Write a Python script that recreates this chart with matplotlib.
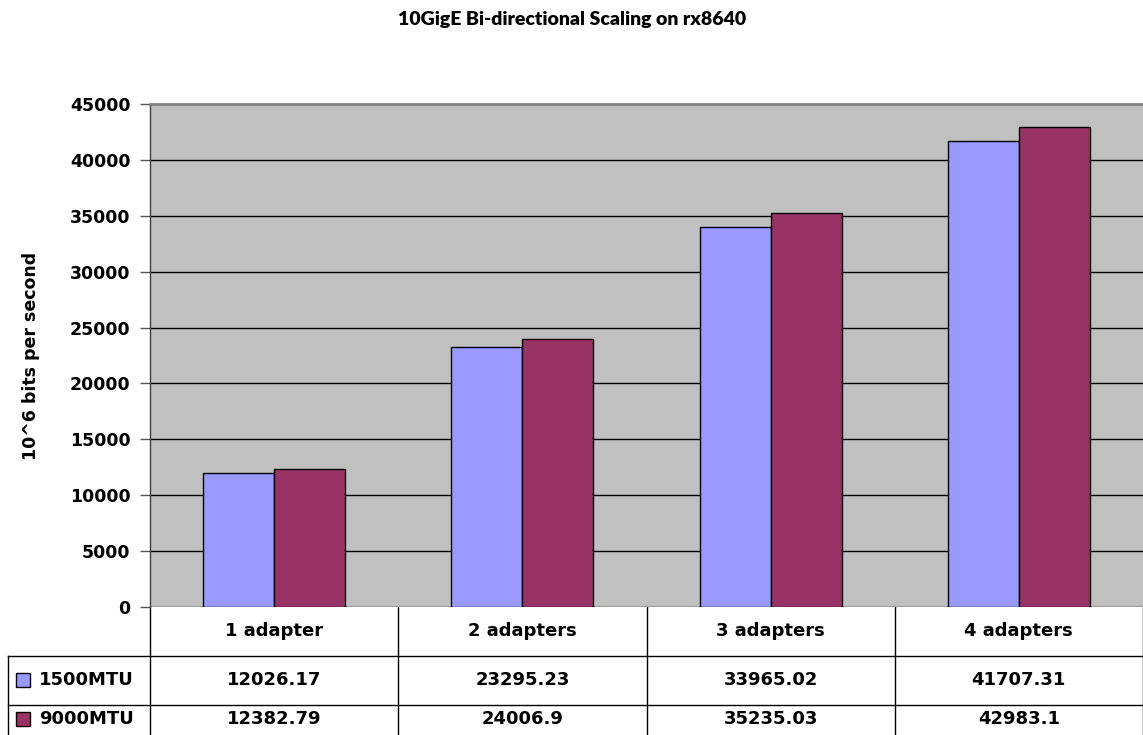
import numpy as np
import matplotlib
matplotlib.use("Agg")
import matplotlib.pyplot as plt
from matplotlib.patches import Rectangle

categories = ["1 adapter", "2 adapters", "3 adapters", "4 adapters"]
series_names = ["1500MTU", "9000MTU"]
mtu1500 = [12026.17, 23295.23, 33965.02, 41707.31]
mtu9000 = [12382.79, 24006.9, 35235.03, 42983.1]
value_labels = [["12026.17", "23295.23", "33965.02", "41707.31"],
                ["12382.79", "24006.9", "35235.03", "42983.1"]]
yticks = [0, 5000, 10000, 15000, 20000, 25000, 30000, 35000, 40000, 45000]

colors = ["#9999FF", "#993366"]
FONT = "DejaVu Sans"

W, H = 1143, 735
fig = plt.figure(figsize=(W / 100, H / 100), dpi=100)

# main plot area (pixel layout converted to figure fractions)
px_l, px_r, px_t, px_b = 150, 1143, 104, 607
ax = fig.add_axes([px_l / W, 1 - px_b / H, (px_r - px_l) / W, (px_b - px_t) / H])
ax.set_facecolor("#C0C0C0")

x = np.arange(len(categories))
bw = 0.286
ax.bar(x - bw / 2, mtu1500, bw, color=colors[0], edgecolor="black", linewidth=1, zorder=3)
ax.bar(x + bw / 2, mtu9000, bw, color=colors[1], edgecolor="black", linewidth=1, zorder=3)

ax.set_xlim(-0.5, len(categories) - 0.5)
ax.set_ylim(0, 45000)
ax.set_yticks(yticks)
ax.set_yticklabels([str(t) for t in yticks], fontfamily=FONT, fontweight="bold", fontsize=12.5)
ax.yaxis.grid(True, color="black", linewidth=1, zorder=0)
ax.set_xticks([])
ax.tick_params(axis="y", length=7, width=1, color="#555555", pad=7)
for side in ["right", "bottom"]:
    ax.spines[side].set_visible(False)
ax.spines["top"].set_color("#808080")
ax.spines["top"].set_linewidth(2)
ax.spines["left"].set_color("#404040")
ax.spines["left"].set_linewidth(1)

ax.set_ylabel("10^6 bits per second", fontfamily=FONT, fontweight="bold", fontsize=12.5)
ax.yaxis.set_label_coords(-(px_l - 40) / (px_r - px_l), 0.5)

fig.text(572 / W, 1 - 20 / H, "10GigE Bi-directional Scaling on rx8640",
         ha="center", va="center", fontfamily="Lato", fontweight="heavy", fontsize=14)

# data table below the plot, drawn in pixel units
tax = fig.add_axes([0, 0, 1, 1 - px_b / H], zorder=-1)
tax.set_xlim(0, W)
tax.set_ylim(H, px_b)
tax.axis("off")

col_w = (px_r - px_l) / len(categories)
row_edges = [607, 656, 705]
row_centers = [631, 680, 719]
lw = 1
for i in range(len(categories) + 1):
    xx = px_l + i * col_w
    tax.plot([xx, xx], [row_edges[0], H], color="black", lw=lw)
tax.plot([8, 8], [row_edges[1], H], color="black", lw=lw)
tax.plot([8, px_r], [row_edges[1], row_edges[1]], color="black", lw=lw)
tax.plot([8, px_r], [row_edges[2], row_edges[2]], color="black", lw=lw)

for i, cat in enumerate(categories):
    cx = px_l + (i + 0.5) * col_w
    tax.text(cx, row_centers[0], cat, ha="center", va="center",
             fontfamily=FONT, fontweight="bold", fontsize=13)
    for r in range(2):
        tax.text(cx, row_centers[r + 1], value_labels[r][i], ha="center", va="center",
                 fontfamily=FONT, fontweight="bold", fontsize=13)

for r, name in enumerate(series_names):
    ry = row_centers[r + 1]
    tax.add_patch(Rectangle((16, ry - 7), 14, 14, facecolor=colors[r], edgecolor="black", lw=1))
    tax.text(39, ry, name, ha="left", va="center",
             fontfamily=FONT, fontweight="bold", fontsize=13)

fig.savefig("out.png", dpi=100)
